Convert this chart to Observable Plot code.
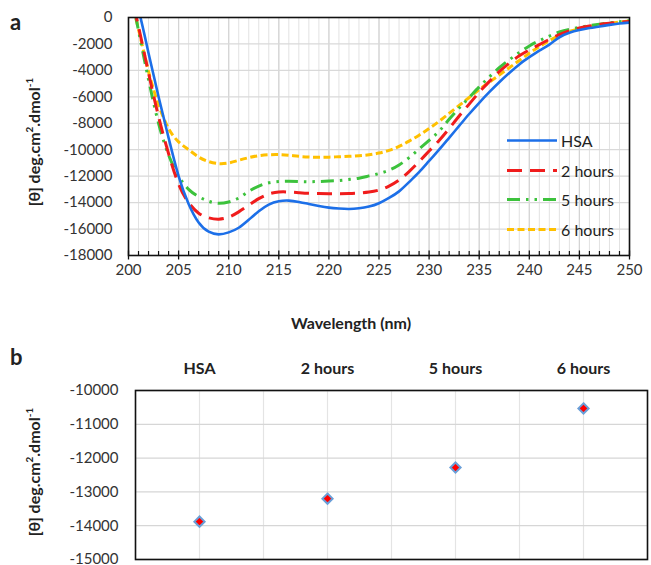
<!DOCTYPE html>
<html>
<head>
<meta charset="utf-8">
<script src="https://cdn.jsdelivr.net/npm/d3@7"></script>
<script src="https://cdn.jsdelivr.net/npm/@observablehq/plot@0.6"></script>
<style>
  html, body { margin: 0; padding: 0; background: #fff; }
  #wrap { position: relative; width: 651px; height: 565px; overflow: hidden; font-family: Lato, "Open Sans", sans-serif; color: #222; }
  #wrap > .abs { position: absolute; }
  .panel { font-weight: 700; font-size: 22px; }
  .ytitle { font-weight: 700; font-size: 16px; white-space: nowrap; transform: translate(-50%, -50%) rotate(-90deg); }
  .xtitle { font-weight: 700; font-size: 16px; white-space: nowrap; transform: translate(-50%, -50%); }
  sup { font-size: 0.62em; line-height: 0; }
  .legend { font-size: 16px; }
  .legend .row { position: absolute; display: flex; align-items: center; white-space: nowrap; transform: translateY(-50%); }
</style>
</head>
<body>
<div id="wrap"></div>
<script>
// ---------- Data: panel a (CD spectra) ----------
const wavelengths = [200,201,202,203,204,205,206,207,208,209,210,211,212,213,214,215,216,217,218,219,220,221,222,223,224,225,226,227,228,229,230,231,232,233,234,235,236,237,238,239,240,241,242,243,244,245,246,247,248,249,250];
const hsa    = [3000,600,-2700,-6000,-9100,-12000,-14100,-15500,-16200,-16400,-16250,-15900,-15300,-14650,-14150,-13900,-13850,-13950,-14100,-14250,-14380,-14450,-14480,-14430,-14300,-14050,-13650,-13150,-12450,-11700,-10850,-10000,-9100,-8200,-7300,-6450,-5650,-4900,-4200,-3550,-3000,-2500,-2050,-1500,-1150,-950,-800,-680,-560,-460,-380];
const hours2 = [2500,-700,-4200,-7500,-10300,-12600,-14000,-14800,-15150,-15250,-15100,-14700,-14200,-13700,-13350,-13200,-13200,-13250,-13300,-13320,-13330,-13330,-13320,-13280,-13200,-13050,-12750,-12300,-11650,-10900,-10100,-9300,-8400,-7450,-6550,-5650,-4850,-4100,-3450,-2900,-2450,-2050,-1650,-1300,-1000,-800,-650,-520,-430,-360,-300];
const hours5 = [2800,-1000,-4700,-8000,-10400,-12000,-13000,-13550,-13900,-14050,-13950,-13650,-13150,-12750,-12500,-12400,-12380,-12400,-12420,-12400,-12370,-12330,-12250,-12150,-11980,-11800,-11550,-11150,-10600,-9950,-9300,-8600,-7700,-6850,-6050,-5250,-4500,-3800,-3200,-2650,-2150,-1750,-1400,-1100,-900,-750,-620,-500,-400,-320,-250];
const hours6 = [2200,-900,-4100,-6600,-8400,-9400,-10000,-10550,-10900,-11050,-11000,-10800,-10600,-10450,-10380,-10370,-10420,-10500,-10550,-10570,-10560,-10530,-10500,-10450,-10380,-10250,-10050,-9750,-9350,-8900,-8400,-7850,-7250,-6650,-6050,-5450,-4900,-4350,-3800,-3250,-2700,-2200,-1750,-1350,-1050,-850,-700,-560,-450,-350,-250];
const seriesNames = ["HSA", "2 hours", "5 hours", "6 hours"];
const xTicksA = [200,205,210,215,220,225,230,235,240,245,250];
const yTicksA = [0,-2000,-4000,-6000,-8000,-10000,-12000,-14000,-16000,-18000];

// ---------- Data: panel b ----------
const categoriesB = ["HSA", "2 hours", "5 hours", "6 hours"];
const valuesB = [-13880, -13200, -12280, -10530];
const yTicksB = [-10000,-11000,-12000,-13000,-14000,-15000];

// ---------- Styles ----------
const styleA = {
  "HSA":     {stroke: "#1c6fe8", dash: null,               width: 2.6},
  "2 hours": {stroke: "#f01c1c", dash: "15,8",             width: 3},
  "5 hours": {stroke: "#3cc23c", dash: "13,6,2.5,6,2.5,6", width: 3},
  "6 hours": {stroke: "#ffc000", dash: "7,3.5",            width: 3}
};
const seriesValues = [hsa, hours2, hours5, hours6];
const rowsA = seriesNames.flatMap((name, s) => wavelengths.map((w, i) => ({name, w, v: seriesValues[s][i]})));
const minorA = d3.range(200, 251).filter(d => d % 5 !== 0);
const allA = d3.range(200, 251);
const font = "Lato, 'Open Sans', sans-serif";
const plain = d => String(d);

const wrap = document.getElementById("wrap");

const lineMarks = seriesNames.slice().reverse().map(name =>
  Plot.line(rowsA.filter(d => d.name === name), {
    x: "w", y: "v", curve: "natural", clip: true,
    stroke: styleA[name].stroke, strokeWidth: styleA[name].width,
    strokeDasharray: styleA[name].dash, strokeLinecap: "butt"
  })
);

const plotA = Plot.plot({
  width: 651, height: 290,
  marginLeft: 128, marginRight: 22, marginTop: 17, marginBottom: 35,
  x: {domain: [200, 250]},
  y: {domain: [-18000, 0]},
  style: {fontFamily: font, fontSize: "15px", color: "#333", background: "transparent"},
  marks: [
    Plot.ruleX(allA, {stroke: "#e2e2e2", strokeWidth: 1}),
    Plot.ruleX(xTicksA, {stroke: "#d4d4d4", strokeWidth: 1.2}),
    Plot.ruleY(yTicksA, {stroke: "#d9d9d9", strokeWidth: 1.2}),
    ...lineMarks,
    Plot.axisY({ticks: yTicksA, tickSize: 0, tickPadding: 16, tickFormat: plain, label: null, fill: "#333"}),
    Plot.axisX({ticks: minorA, tickSize: 4, dy: -4, tickFormat: () => "", label: null, stroke: "#111", strokeWidth: 1.2}),
    Plot.axisX({ticks: xTicksA, tickSize: 9, dy: -4.5, tickFormat: () => "", label: null, stroke: "#111", strokeWidth: 1.3}),
    Plot.axisX({ticks: xTicksA, tickSize: 0, tickPadding: 9, tickFormat: plain, label: null, fill: "#333"}),
    Plot.frame({stroke: "#111", strokeWidth: 1.6})
  ]
});
plotA.style.position = "absolute"; plotA.style.left = "0px"; plotA.style.top = "0px";
wrap.appendChild(plotA);

// panel b
const rowsB = categoriesB.map((c, i) => ({c, pos: i + 0.5, v: valuesB[i]}));
const gridB = d3.range(0, categoriesB.length + 0.01, 0.5);
const plotB = Plot.plot({
  width: 651, height: 225,
  marginLeft: 135, marginRight: 4, marginTop: 50, marginBottom: 6,
  x: {domain: [0, categoriesB.length]},
  y: {domain: [-15000, -10000]},
  style: {fontFamily: font, fontSize: "15px", color: "#333", background: "transparent"},
  marks: [
    Plot.ruleX(gridB, {stroke: "#e4e4e4", strokeWidth: 1.2}),
    Plot.ruleY(yTicksB, {stroke: "#d6d6d6", strokeWidth: 1.3}),
    Plot.dot(rowsB, {x: "pos", y: "v", symbol: "diamond2", r: 4.6, fill: "#ff0000", stroke: "#6a9fd8", strokeWidth: 2}),
    Plot.axisY({ticks: yTicksB, tickSize: 0, tickPadding: 17, tickFormat: plain, label: null, fill: "#333"}),
    Plot.axisX({anchor: "top", ticks: rowsB.map(d => d.pos), tickSize: 0, tickPadding: 17,
      tickFormat: (d) => categoriesB[Math.round(d - 0.5)], label: null, fontWeight: 700, fontSize: 16, fill: "#222"}),
    Plot.frame({stroke: "#111", strokeWidth: 1.6})
  ]
});
plotB.style.position = "absolute"; plotB.style.left = "0px"; plotB.style.top = "340px";
wrap.appendChild(plotB);

// text overlays
function addDiv(cls, html, left, top) {
  const d = document.createElement("div");
  d.className = "abs " + cls;
  d.innerHTML = html;
  d.style.left = left + "px"; d.style.top = top + "px";
  wrap.appendChild(d);
  return d;
}
const yTitle = "[θ] deg.cm<sup>2</sup>.dmol<sup>-1</sup>";
addDiv("panel", "a", 10, 8);
addDiv("panel", "b", 10, 343);
addDiv("ytitle", yTitle, 33, 142);
addDiv("ytitle", yTitle, 33, 472);
addDiv("xtitle", "Wavelength (nm)", 351, 322);

// legend (inside panel a)
const legend = document.createElement("div");
legend.className = "abs legend";
legend.style.left = "0px"; legend.style.top = "0px";
wrap.appendChild(legend);
const legendRowsY = [140, 170, 199, 229];
seriesNames.forEach((name, i) => {
  const st = styleA[name];
  const row = document.createElement("div");
  row.className = "row";
  row.style.left = "507px"; row.style.top = legendRowsY[i] + "px";
  row.innerHTML = `<svg width="50" height="8" style="display:block;margin-right:4px"><line x1="0" y1="4" x2="50" y2="4" stroke="${st.stroke}" stroke-width="${st.width}" ${st.dash ? `stroke-dasharray="${st.dash}"` : ""}/></svg><span>${name}</span>`;
  legend.appendChild(row);
});
</script>
</body>
</html>
